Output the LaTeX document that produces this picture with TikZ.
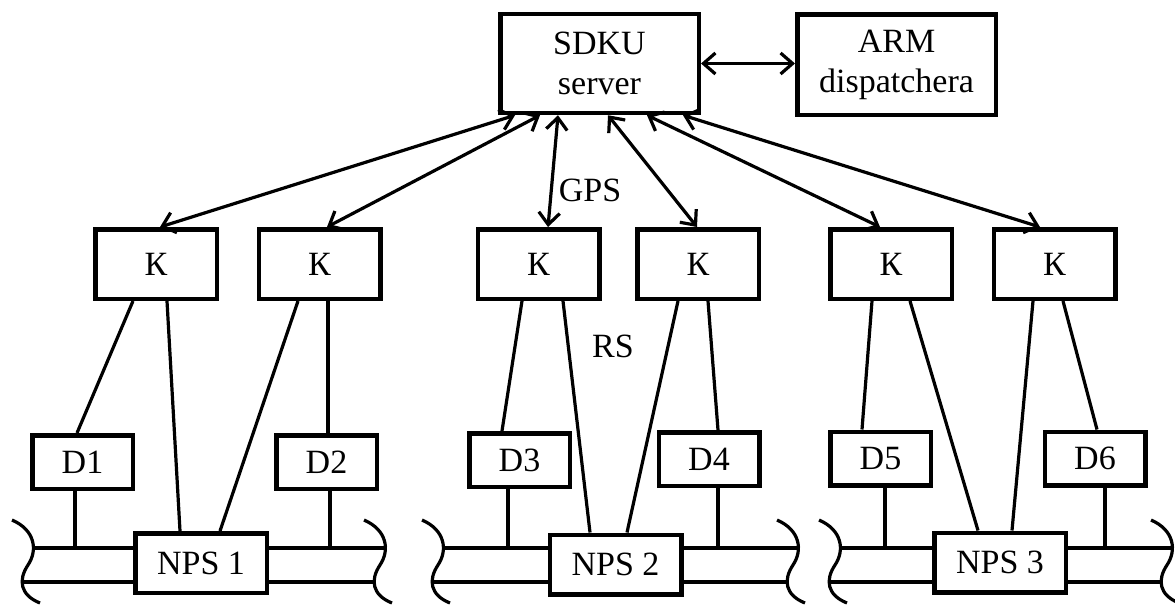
\documentclass[tikz,border=0pt]{standalone}
\usepackage{fontspec}
\setmainfont{Liberation Serif}
\usetikzlibrary{arrows.meta}
\begin{document}
\begin{tikzpicture}[x=1pt,y=-1pt,
  box/.style={draw,line width=4.5pt,inner sep=0pt,font=\fontsize{34}{40}\selectfont,align=center},
  kbox/.style={box,minimum width=121.5pt,minimum height=69.5pt},
  dbox/.style={box,minimum width=100.5pt,minimum height=53.5pt},
  nbox/.style={box,minimum width=131.5pt,minimum height=59.5pt},
  bigbox/.style={box,minimum width=198.5pt,minimum height=99pt},
  conn/.style={line width=3.2pt},
  arr/.style={line width=3.2pt,{Straight Barb[length=12pt,width=21pt]}-{Straight Barb[length=12pt,width=21pt]}},
  lbl/.style={font=\fontsize{34}{40}\selectfont,inner sep=0pt},
  brk/.pic={\draw[line width=3.2pt] (-21,-28) .. controls (2,-18) and (5,2) .. (-5,17) .. controls (-15,32) and (-13,47) .. (7,55);}
]
\useasboundingbox (0,0) rectangle (1175,608);

% top boxes
\node[bigbox] (sdku) at (599.5,63.5) {SDKU\\server};
\node[bigbox,minimum height=100.5pt] (arm) at (896.5,64.5) {ARM\\dispatchera};

% K boxes
\node[kbox] (k1) at (156,264) {К};
\node[kbox] (k2) at (319.5,264) {К};
\node[kbox] (k3) at (538.5,264) {К};
\node[kbox] (k4) at (698,264) {К};
\node[kbox] (k5) at (891,264) {К};
\node[kbox] (k6) at (1054.5,264) {К};

% D boxes
\node[dbox] (d1) at (82.5,462) {D1};
\node[dbox] (d2) at (326.5,462) {D2};
\node[dbox] (d3) at (519.5,460) {D3};
\node[dbox] (d4) at (709,459) {D4};
\node[dbox] (d5) at (880.5,458.5) {D5};
\node[dbox] (d6) at (1095,458.5) {D6};

% NPS boxes
\node[nbox] (nps1) at (201,563) {NPS 1};
\node[nbox] (nps2) at (615.5,564.5) {NPS 2};
\node[nbox] (nps3) at (1000,562.5) {NPS 3};

% labels
\node[lbl] (gps) at (590,190) {GPS};
\node[lbl] (rs) at (613,346) {RS};

% arrows
\draw[arr] (sdku.east) -- (sdku.east -| arm.west);
\draw[arr] ([xshift=-84.5pt]sdku.south) -- ([xshift=4pt]k1.north);
\draw[arr] ([xshift=-59.5pt]sdku.south) -- ([xshift=7.5pt]k2.north);
\draw[arr] ([xshift=-41.5pt]sdku.south) -- ([xshift=9.5pt]k3.north);
\draw[arr] ([xshift=8.5pt]sdku.south) -- ([xshift=-1pt]k4.north);
\draw[arr] ([xshift=47.5pt]sdku.south) -- ([xshift=-11pt]k5.north);
\draw[arr] ([xshift=83.5pt]sdku.south) -- ([xshift=-14.5pt]k6.north);

% K connections
\draw[conn] ([xshift=-23pt]k1.south) -- ([xshift=-5.5pt]d1.north);
\draw[conn] ([xshift=11pt]k1.south) -- ([xshift=-21pt]nps1.north);
\draw[conn] ([xshift=-21.5pt]k2.south) -- ([xshift=19pt]nps1.north);
\draw[conn] ([xshift=8.5pt]k2.south) -- ([xshift=1.5pt]d2.north);
\draw[conn] ([xshift=-16.5pt]k3.south) -- ([xshift=-17.5pt]d3.north);
\draw[conn] ([xshift=24.5pt]k3.south) -- ([xshift=-25.5pt]nps2.north);
\draw[conn] ([xshift=-20pt]k4.south) -- ([xshift=11.5pt]nps2.north);
\draw[conn] ([xshift=10pt]k4.south) -- ([xshift=9pt]d4.north);
\draw[conn] ([xshift=-19pt]k5.south) -- ([xshift=-18.5pt]d5.north);
\draw[conn] ([xshift=19pt]k5.south) -- ([xshift=-22pt]nps3.north);
\draw[conn] ([xshift=-21.5pt]k6.south) -- ([xshift=12pt]nps3.north);
\draw[conn] ([xshift=8.5pt]k6.south) -- ([xshift=2pt]d6.north);

% pipe break points
\coordinate (p1l) at (33,548);   \coordinate (p1r) at (385,548);
\coordinate (p1lb) at (22,582);  \coordinate (p1rb) at (374,582);
\coordinate (p2l) at (443,548);  \coordinate (p2r) at (798,548);
\coordinate (p2lb) at (432,582); \coordinate (p2rb) at (787,582);
\coordinate (p3l) at (840,548);  \coordinate (p3r) at (1172,548);
\coordinate (p3lb) at (829,582); \coordinate (p3rb) at (1161,582);

% pipes
\foreach \i in {1,2,3}{
  \draw[conn] (p\i l) -- (p\i l -| nps\i.west);
  \draw[conn] (p\i l -| nps\i.east) -- (p\i r);
  \draw[conn] (p\i lb) -- (p\i lb -| nps\i.west);
  \draw[conn] (p\i lb -| nps\i.east) -- (p\i rb);
  \pic at (p\i l) {brk};
  \pic at (p\i r) {brk};
}

% D drops to pipe
\draw[conn] ([xshift=-7.5pt]d1.south) -- ([xshift=-7.5pt]d1.south |- p1l);
\draw[conn] ([xshift=3.5pt]d2.south) -- ([xshift=3.5pt]d2.south |- p1l);
\draw[conn] ([xshift=-11.5pt]d3.south) -- ([xshift=-11.5pt]d3.south |- p2l);
\draw[conn] ([xshift=9pt]d4.south) -- ([xshift=9pt]d4.south |- p2l);
\draw[conn] ([xshift=4.5pt]d5.south) -- ([xshift=4.5pt]d5.south |- p3l);
\draw[conn] ([xshift=10pt]d6.south) -- ([xshift=10pt]d6.south |- p3l);
\end{tikzpicture}
\end{document}
